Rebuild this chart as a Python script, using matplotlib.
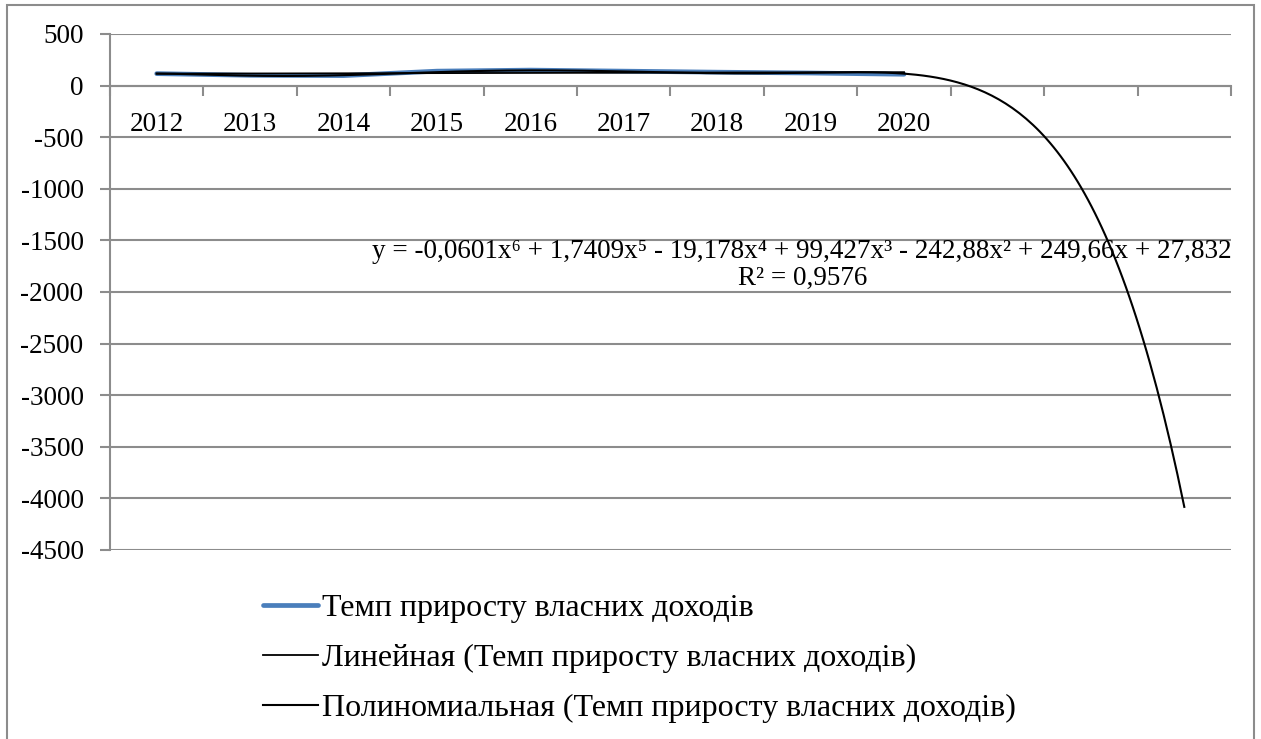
import numpy as np
import matplotlib
matplotlib.use("Agg")
import matplotlib.pyplot as plt
from matplotlib.patches import Rectangle

plt.rcParams["font.family"] = ["Liberation Serif", "DejaVu Serif"]
plt.rcParams["axes.unicode_minus"] = False

# Data
years = ["2012", "2013", "2014", "2015", "2016", "2017", "2018", "2019", "2020"]
growth = [116, 100, 97, 140, 150, 140, 130, 122, 110]
n_categories = 12  # 9 years + 3 forecast periods of the trendline

# Polynomial trendline coefficients shown on the chart (highest power first)
poly_coef = [-0.0601, 1.7409, -19.178, 99.427, -242.88, 249.66, 27.832]
r2_text = "R² = 0,9576"
eq_text = "y = -0,0601x⁶ + 1,7409x⁵ - 19,178x⁴ + 99,427x³ - 242,88x² + 249,66x + 27,832"

labels = [
    "Темп приросту власних доходів",
    "Линейная (Темп приросту власних доходів)",
    "Полиномиальная (Темп приросту власних доходів)",
]

W, H = 1261, 739
fig = plt.figure(figsize=(W / 100, H / 100), dpi=100)
ax = fig.add_axes([110 / W, 1 - 550 / H, (1231 - 110) / W, (550 - 34) / H])

grid_col = "#8c8c8c"
fs = 19.5
fs_leg = 23

x = np.arange(1, len(growth) + 1)
ax.plot(x, growth, color="#4A7EBB", lw=3.4, solid_capstyle="round", label=labels[0], zorder=3)

# linear trend over the data range
lin = np.polyfit(x, growth, 1)
ax.plot(x, np.polyval(lin, x), color="black", lw=1.3, label=labels[1], zorder=4)

# polynomial trend, forecast 3 periods forward
xp = np.linspace(1, n_categories, 300)
ax.plot(xp, np.polyval(poly_coef, xp), color="black", lw=1.5, label=labels[2], zorder=4)

ax.set_xlim(0.5, n_categories + 0.5)
ax.set_ylim(-4500, 500)
ax.set_yticks(np.arange(-4500, 501, 500))
ax.yaxis.grid(True, color=grid_col, lw=1.5)
ax.set_axisbelow(True)

for s in ["top", "right"]:
    ax.spines[s].set_visible(False)
ax.spines["left"].set_color(grid_col)
ax.spines["left"].set_linewidth(1.5)
ax.spines["bottom"].set_position(("data", 0))
ax.spines["bottom"].set_color(grid_col)
ax.spines["bottom"].set_linewidth(1.5)

ax.set_xticks(x)
ax.set_xticklabels(years)
ax.set_xticks(np.arange(0.5, n_categories + 1, 1), minor=True)
ax.tick_params(axis="x", which="major", length=0, pad=19, labelsize=fs)
ax.tick_params(axis="x", which="minor", length=7, width=1.5, color=grid_col, direction="out")
ax.tick_params(axis="y", length=7, width=1.5, color=grid_col, pad=12, labelsize=fs)

ax.text(7.91, -1740, eq_text + "\n" + r2_text, ha="center", va="center",
        fontsize=fs, multialignment="center", linespacing=1.1)

fig.legend(loc="upper left", bbox_to_anchor=(234 / W, 1 - 565 / H), frameon=False,
           fontsize=fs_leg, handlelength=1.72, handletextpad=0.15, labelspacing=0.64)

# outer chart frame
fig.patches.append(Rectangle((7 / W, -0.01), (1254 - 7) / W, 1 - 5 / H + 0.01,
                             transform=fig.transFigure, fill=False,
                             edgecolor=grid_col, lw=1.5))

fig.savefig("out.png", dpi=100)
